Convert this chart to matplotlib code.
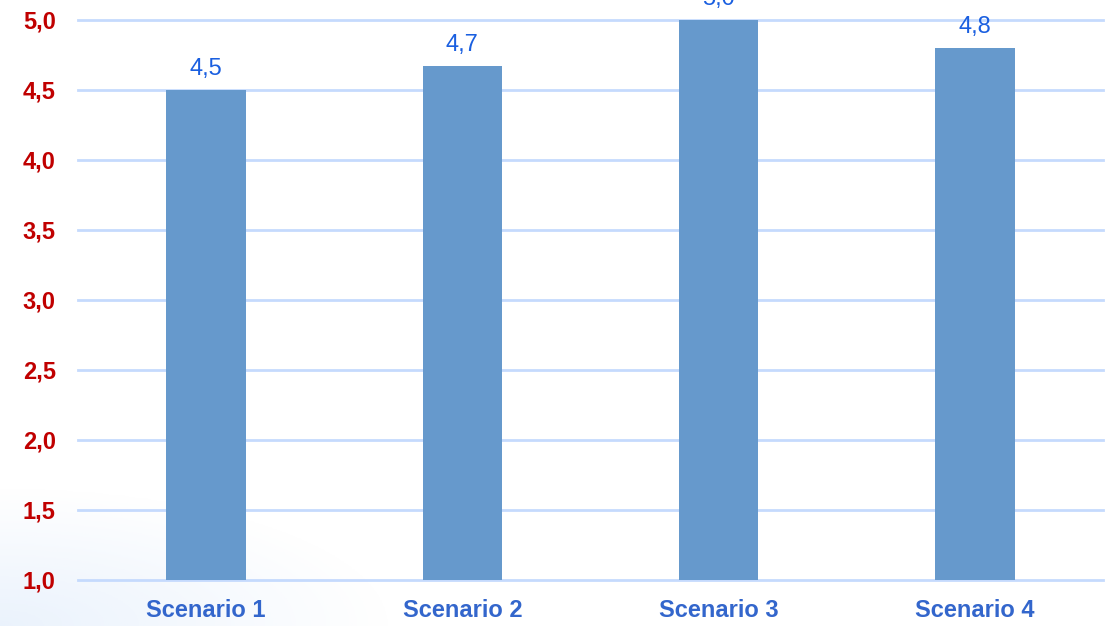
import numpy as np
import matplotlib.pyplot as plt
from matplotlib.ticker import FuncFormatter

# data
scenarios = ['Scenario 1', 'Scenario 2', 'Scenario 3', 'Scenario 4']
values = [4.5, 4.67, 5.0, 4.8]
y_ticks = [1.0, 1.5, 2.0, 2.5, 3.0, 3.5, 4.0, 4.5, 5.0]

plt.rcParams['font.family'] = ['Liberation Sans', 'DejaVu Sans']

fig = plt.figure(figsize=(11.17, 6.26), dpi=100)

# soft blue glow in the bottom-left corner
bg = fig.add_axes([0, 0, 1, 1], zorder=-10)
gx, gy = np.meshgrid(np.linspace(0, 1, 400), np.linspace(0, 1, 220))
d = np.sqrt((gx / 0.35) ** 2 + (gy / 0.22) ** 2)
alpha = np.clip(1 - d, 0, 1) * 0.4
img = np.zeros((220, 400, 4))
img[..., 0] = 0.80
img[..., 1] = 0.88
img[..., 2] = 0.98
img[..., 3] = alpha
bg.imshow(img, extent=[0, 1, 0, 1], origin='lower', aspect='auto')
bg.set_xlim(0, 1)
bg.set_ylim(0, 1)
bg.axis('off')

ax = fig.add_axes([78 / 1117, 46 / 626, 1025 / 1117, 560 / 626])
ax.patch.set_alpha(0)
x = np.arange(len(scenarios))
ax.bar(x, values, width=0.31, bottom=0, color='#6699CC', zorder=3)
ax.set_ylim(1.0, 5.0)
ax.set_xlim(-0.5, len(scenarios) - 0.5)
ax.set_yticks(y_ticks)
ax.yaxis.set_major_formatter(FuncFormatter(lambda v, p: f'{v:.1f}'.replace('.', ',')))
ax.set_xticks(x)
ax.set_xticklabels(scenarios)
ax.grid(axis='y', color='#C5DAFD', linewidth=2, zorder=0)
for gl in ax.get_ygridlines():
    gl.set_clip_on(False)
for s in ax.spines.values():
    s.set_visible(False)
ax.tick_params(axis='both', length=0)
ax.tick_params(axis='y', pad=16)
ax.tick_params(axis='x', pad=14)
for lab in ax.get_yticklabels():
    lab.set_color('#C00000')
    lab.set_fontweight('bold')
    lab.set_fontsize(17)
for lab in ax.get_xticklabels():
    lab.set_color('#3366CC')
    lab.set_fontweight('bold')
    lab.set_fontsize(17)

for xi, v in zip(x, values):
    ax.annotate(f'{v:.1f}'.replace('.', ','), (xi, v), xytext=(0, 7),
                textcoords='offset points', ha='center', va='bottom',
                color='#1A5FE0', fontsize=17, clip_on=False, annotation_clip=False)

fig.savefig('out.png', dpi=100)
